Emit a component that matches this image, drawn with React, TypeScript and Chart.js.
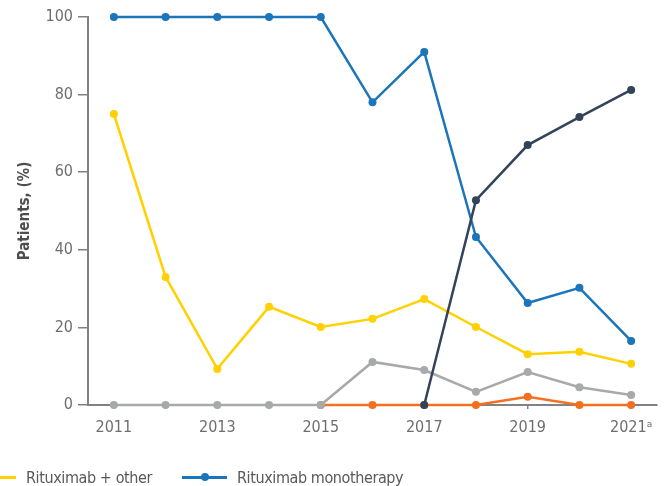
import React, { useEffect, useRef } from "react";
import { Chart, registerables } from "chart.js";

Chart.register(...registerables);

const years = ["2011", "2012", "2013", "2014", "2015", "2016", "2017", "2018", "2019", "2020", "2021"];
const xTickLabels = ["2011", "", "2013", "", "2015", "", "2017", "", "2019", "", "2021ᵃ"];
const yTicks = [0, 20, 40, 60, 80, 100];

const rituximabMono = [100, 100, 100, 100, 100, 78, 91, 43.3, 26.3, 30.2, 16.5];
const rituximabOther = [75, 33, 9.3, 25.3, 20.1, 22.2, 27.3, 20.1, 13.1, 13.7, 10.6];
const seriesNavy = [null, null, null, null, null, null, 0, 52.8, 67, 74.2, 81.2];
const seriesGrey = [0, 0, 0, 0, 0, 11.1, 9, 3.4, 8.5, 4.6, 2.6];
const seriesOrange = [null, null, null, null, 0, 0, 0, 0, 2.1, 0, 0];

const names = ["Series C", "Rituximab monotherapy", "Rituximab + other", "Series D", "Series E"];
const colors = ["#33445a", "#1b75bb", "#ffd100", "#a7a9ac", "#f37021"];
const legendShown = [2, 1];
const legendLeft = [-29, 182];

const FONT = '"Liberation Sans Narrow", "DejaVu Sans Condensed", Roboto, sans-serif';

export default function App() {
  const ref = useRef<HTMLCanvasElement | null>(null);

  useEffect(() => {
    document.body.style.margin = "0";
    const canvas = ref.current;
    if (!canvas) return;
    const dataArrays = [seriesNavy, rituximabMono, rituximabOther, seriesGrey, seriesOrange];
    const chart = new Chart(canvas, {
      type: "line",
      data: {
        labels: years,
        datasets: dataArrays.map((d, i) => ({
          label: names[i],
          data: d as (number | null)[],
          borderColor: colors[i],
          backgroundColor: colors[i],
          pointBackgroundColor: colors[i],
          pointBorderWidth: 0,
          pointRadius: 4,
          borderWidth: 2.5,
          tension: 0,
          spanGaps: false,
          clip: false as any,
        })),
      },
      options: {
        animation: false,
        responsive: false,
        devicePixelRatio: 1,
        layout: { padding: { top: 17, right: 8, bottom: 51, left: 0 } },
        plugins: { legend: { display: false }, tooltip: { enabled: false } },
        scales: {
          x: {
            type: "category",
            offset: true,
            border: { display: true, color: "#808285", width: 2 },
            grid: { drawOnChartArea: false, drawTicks: true, tickLength: 4, color: "#808285", lineWidth: 1.5 },
            ticks: {
              autoSkip: false,
              maxRotation: 0,
              padding: 9,
              color: "#6d6e71",
              font: { family: FONT, size: 16 },
              callback: (_v: any, i: number) => xTickLabels[i],
            },
            afterFit: (s: any) => {
              s.height = 30;
            },
          },
          y: {
            min: 0,
            max: 100,
            border: { display: true, color: "#808285", width: 2 },
            grid: { drawOnChartArea: false, drawTicks: true, tickLength: 10, color: "#808285", lineWidth: 1.5 },
            afterBuildTicks: (s: any) => {
              s.ticks = yTicks.map((v) => ({ value: v }));
            },
            ticks: {
              padding: 5,
              color: "#6d6e71",
              font: { family: FONT, size: 16 },
            },
            title: {
              display: true,
              text: "Patients, (%)",
              color: "#4d4d4f",
              font: { family: FONT, size: 15, weight: "bold" },
              padding: { top: 16, bottom: 0 },
            },
            afterFit: (s: any) => {
              s.width = 88;
            },
          },
        },
      },
    });
    return () => chart.destroy();
  }, []);

  return (
    <div style={{ position: "relative", width: 665, height: 486, overflow: "hidden", background: "#fff" }}>
      <canvas ref={ref} width={665} height={486} style={{ width: 665, height: 486, display: "block" }} />
      {legendShown.map((idx, k) => (
        <div
          key={idx}
          style={{
            position: "absolute",
            left: legendLeft[k],
            top: 467,
            height: 20,
            display: "flex",
            alignItems: "center",
            whiteSpace: "nowrap",
            fontFamily: FONT,
            fontSize: 16,
            letterSpacing: "-0.4px",
            color: "#58595b",
          }}
        >
          <span style={{ position: "relative", width: 45, height: 3, background: colors[idx], display: "inline-block" }}>
            <span
              style={{
                position: "absolute",
                left: 18.5,
                top: -2.5,
                width: 8,
                height: 8,
                borderRadius: "50%",
                background: colors[idx],
              }}
            />
          </span>
          <span style={{ marginLeft: 10 }}>{names[idx]}</span>
        </div>
      ))}
    </div>
  );
}
